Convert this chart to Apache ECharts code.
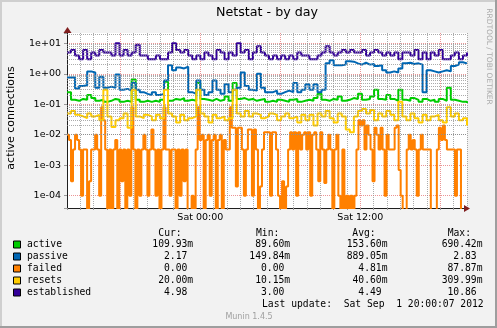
<!DOCTYPE html>
<html><head><meta charset="utf-8">
<script src="https://cdn.jsdelivr.net/npm/echarts@6/dist/echarts.min.js"></script>
<style>html,body{margin:0;padding:0;background:#F2F2F2}#c{width:497px;height:328px}</style>
</head><body><div id="c"></div>
<script>
// ---- data ----
const chartTitle = 'Netstat - by day';
const yAxisTitle = 'active connections';
const xTickLabels = {10: 'Sat 00:00', 22: 'Sat 12:00'}; // hours after Fri 14:00
const spanHours = 30;
const seriesNames = ['active', 'passive', 'failed', 'resets', 'established'];
const seriesColors = ['#00CC00', '#0066B3', '#FF8000', '#FFCC00', '#330099'];

const active = [
0.25,0.14,0.13,0.15,0.14,0.2,0.16,0.13,0.14,0.12,
0.13,0.15,0.14,0.12,0.13,0.12,0.65,0.14,0.12,0.13,
0.12,0.13,0.12,0.14,0.55,0.13,0.15,0.14,0.16,0.13,
0.14,0.13,0.5,0.15,0.14,0.13,0.15,0.13,0.14,0.18,
0.13,0.5,0.15,0.16,0.14,0.15,0.13,0.14,0.15,0.12,
0.13,0.12,0.14,0.13,0.12,0.14,0.15,0.12,0.13,0.14,
0.13,0.16,0.22,0.14,0.13,0.15,0.14,0.18,0.13,0.14,
0.16,0.15,0.22,0.14,0.15,0.18,0.3,0.15,0.14,0.2,
0.15,0.13,0.3,0.14,0.13,0.16,0.14,0.12,0.15,0.13,
0.14,0.12,0.15,0.13,0.35,0.14,0.13,0.12,0.12,0.11];

const passive = [
0.75,0.75,0.33,0.4,0.42,1.2,1.1,0.35,0.8,0.35,
0.38,0.35,0.95,0.3,0.32,0.28,0.5,0.3,0.25,0.22,
0.2,0.25,0.2,0.22,0.6,1.9,1.3,1.6,1.5,1.7,
0.25,0.22,0.6,0.3,0.2,0.25,0.6,0.3,0.22,0.45,
0.25,0.3,0.35,1.1,0.4,0.3,0.28,1.0,0.35,0.25,
0.25,0.28,0.22,0.25,0.28,0.25,0.5,0.25,0.3,0.45,
0.3,0.45,0.25,0.3,2.2,2.8,1.9,1.9,2.0,2.6,
2.5,2.2,2.0,2.3,2.0,2.1,1.8,1.9,1.3,1.1,
1.2,1.1,1.5,2.2,2.3,2.1,2.2,2.0,0.25,1.3,
1.2,1.1,1.2,1.3,1.2,1.8,2.0,2.4,2.2,2.17];

const failed = [
0.01,0.0067,0.0003,0.0033,0.01,0.0067,0.0033,0.0001,0.0033,0.0033,
0,0.0003,0.0033,0.0033,0.01,0.0033,0.0001,0.08,0.03,0.0033,
0,0.0033,0,0.0033,0.0067,0,0.0033,0.0003,0.0033,0,
0.0033,0.0001,0.08,0.0033,0,0.0033,0.0001,0.0033,0.01,0.0033,
0.0001,0.0033,0.015,0.0033,0.0001,0.0033,0,0.0033,0.08,0.0033,
0.0033,0.0001,0.0033,0.0033,0,0.0033,0.0001,0.0033,0.0003,0.0033,
0,0,0.0001,0,0.0033,0.08,0.0067,0.01,0,0.0067,
0.01,0.0001,0.0067,0.01,0,0.0067,0.01,0,0.0067,0.0033,
0.0033,0.08,0.017,0.017,0.0002,0.017,0.017,0.0033,0.0001,0.0033,
0.015,0.015,0.0001,0.015,0.0033,0,0.0002,0.0033,0.012,0.012,
0.012,0.0001,0.012,0.012,0.0033,0.0001,0,0.0003,0,0.0002,
0.0033,0.012,0.0033,0.012,0.0001,0.012,0.0033,0.01,0.012,0.0033,
0.012,0.0001,0.01,0.012,0.0033,0.0003,0.012,0.0033,0.00026,0.0033,
0.01,0.0033,0,0.0033,0.01,0.0001,0,0.0033,0,0.0001,
0,0.0001,0,0.0001,0.0033,0.03,0.02,0.03,0.0033,0.02,
0.01,0.0033,0.0003,0.017,0.01,0.0033,0.017,0.0033,0.0001,0.01,
0.0033,0.0033,0.0033,0.017,0.02,0.0007,0.0001,0,0,0.0033,
0.01,0.0033,0.0067,0.0033,0.0001,0.0033,0.01,0.0033,0.0033,0.0033,
0.0033,0,0,0,0.0033,0.017,0.0067,0.02,0.0067,0.0033,
0.0033,0.0033,0.0033,0.0001,0.0033,0.0033,0,0,0,0];

const resets = [
0.05,0.06,0.045,0.04,0.035,0.05,0.04,0.045,0.03,0.3,
0.04,0.018,0.03,0.035,0.05,0.017,0.3,0.04,0.035,0.045,
0.04,0.03,0.045,0.035,0.3,0.05,0.04,0.025,0.045,0.03,
0.035,0.04,0.3,0.05,0.04,0.025,0.045,0.035,0.04,0.03,
0.035,0.3,0.05,0.04,0.06,0.04,0.05,0.045,0.035,0.04,
0.05,0.045,0.03,0.04,0.05,0.035,0.04,0.025,0.045,0.03,
0.045,0.02,0.05,0.04,0.06,0.035,0.025,0.05,0.04,0.015,
0.012,0.04,0.06,0.07,0.05,0.065,0.03,0.05,0.04,0.06,
0.045,0.03,0.12,0.04,0.03,0.05,0.035,0.025,0.045,0.03,
0.04,0.045,0.03,0.025,0.08,0.04,0.05,0.03,0.035,0.02];

const established = [
5,6,4,3,6,3,5,4,6,5,
5,4,10,4,6,4,5,9,4,4,
3,3,4,3,3,5,10,6,5,6,
4,3,4,3,5,4,3,6,5,3,
5,4,10,5,6,3,5,8,5,4,
3,4,3,4,3,4,3,5,4,4,
3,3,4,5,8,5,4,5,6,5,
6,5,5,6,4,5,6,5,4,5,
4,5,3,5,5,4,6,3,5,3,
5,4,6,3,3,4,5,3,4,4.98];

const legendHeaders = ['Cur:', 'Min:', 'Avg:', 'Max:'];
const curVals = ['109.93m', '  2.17 ', '  0.00 ', ' 20.00m', '  4.98 '];
const minVals = [' 89.60m', '149.84m', '  0.00 ', ' 10.15m', '  3.00 '];
const avgVals = ['153.60m', '889.05m', '  4.81m', ' 40.60m', '  4.49 '];
const maxVals = ['690.42m', '  2.83 ', ' 87.87m', '309.99m', ' 10.86 '];
const lastUpdate = 'Last update:  Sat Sep  1 20:00:07 2012';
const footer = 'Munin 1.4.5';
const sideText = 'RRDTOOL / TOBI OETIKER';

// ---- chart ----
const allSeries = [active, passive, failed, resets, established];
const yMin = 3.95e-5, yMax = 21.8;
const floorVal = 1e-6; // zero cannot be shown on a log axis; draw it below the bottom edge (clipped)
const toPairs = arr => arr.map((v, i) => [i * spanHours / (arr.length - 1), Math.max(v, floorVal)]);

const minorGrid = [];
for (let k = -5; k <= 1; k++) for (let m = 2; m <= 9; m++) {
  const v = m * Math.pow(10, k);
  if (v > yMin * 1.01 && v < yMax) minorGrid.push({yAxis: v});
}

const GRID = 'rgba(143,143,143,0.75)';
const MGRID = 'rgba(222,79,79,0.6)';
const mono = '"DejaVu Sans Mono"';
const sans = '"DejaVu Sans"';

const chart = echarts.init(document.getElementById('c'), null, {renderer: 'canvas', devicePixelRatio: 1});

const gfx = [];
gfx.push({type: 'rect', shape: {x: 0, y: 0, width: 497, height: 328}, style: {fill: '#F2F2F2'}, z: -10});
gfx.push({type: 'rect', shape: {x: 0, y: 0, width: 497, height: 2}, style: {fill: '#CFCFCF'}, z: -9});
gfx.push({type: 'rect', shape: {x: 0, y: 0, width: 2, height: 328}, style: {fill: '#CFCFCF'}, z: -9});
gfx.push({type: 'rect', shape: {x: 495, y: 0, width: 2, height: 328}, style: {fill: '#9E9E9E'}, z: -9});
gfx.push({type: 'rect', shape: {x: 0, y: 326, width: 497, height: 2}, style: {fill: '#9E9E9E'}, z: -9});

function txt(text, x, y, font, fill, align, rot) {
  return {type: 'text', x: x, y: y, rotation: rot || 0, z: 10,
    style: {text: text, font: font, fill: fill, align: align, textAlign: align,
      verticalAlign: 'middle', textVerticalAlign: 'middle'}};
}
gfx.push(txt(chartTitle, 267, 13, '12.7px ' + sans, '#000', 'center'));
gfx.push(txt(yAxisTitle, 11, 118, '11px ' + sans, '#000', 'center', Math.PI / 2));
gfx.push(txt(sideText, 488.5, 56.5, '7.5px ' + sans, '#AAAAAA', 'center', -Math.PI / 2));

const colX = [152.3, 249.3, 346.7, 441.7];
const headX = [158.3, 256, 352.3, 447.7];
const F = '9.7px ' + mono;
legendHeaders.forEach((h, j) => gfx.push(txt(h, headX[j], 233, F, '#000', 'left')));
const cols = [curVals, minVals, avgVals, maxVals];
seriesNames.forEach((n, i) => {
  const y = 244.5 + i * 12;
  gfx.push({type: 'rect', shape: {x: 13.5, y: y - 3.5, width: 7, height: 7},
    style: {fill: seriesColors[i], stroke: '#000', lineWidth: 1}, z: 10});
  gfx.push(txt(n, 27, y, F, '#000', 'left'));
  cols.forEach((c, j) => gfx.push(txt(c[i], colX[j], y, F, '#000', 'left')));
});
gfx.push(txt(lastUpdate, 262, 304.3, F, '#000', 'left'));
gfx.push(txt(footer, 249, 316.7, '8px ' + sans, '#A0A0A0', 'center'));
// red arrow heads as in rrdtool
gfx.push({type: 'polygon', shape: {points: [[464, 205], [470, 208.5], [464, 212]]}, style: {fill: '#801F1F'}, z: 10});
gfx.push({type: 'polygon', shape: {points: [[63.5, 33], [67.5, 27], [71.5, 33]]}, style: {fill: '#801F1F'}, z: 10});

const series = [{
  type: 'line', data: [], z: 1, silent: true,
  markLine: {silent: true, symbol: 'none', animation: false, label: {show: false},
    lineStyle: {type: 'dotted', color: GRID, width: 1}, data: minorGrid}
}];
allSeries.forEach((arr, i) => series.push({
  name: seriesNames[i], type: 'line', data: toPairs(arr), step: 'end',
  showSymbol: false, symbol: 'none', clip: true, z: 2,
  lineStyle: {color: seriesColors[i], width: 2}, itemStyle: {color: seriesColors[i]}
}));

chart.setOption({
  animation: false,
  backgroundColor: 'transparent',
  graphic: {elements: gfx},
  grid: {left: 67, top: 33, width: 400, height: 175, show: true, backgroundColor: '#FFFFFF',
    borderWidth: 0, containLabel: false, outerBoundsMode: 'none'},
  xAxis: {
    type: 'value', min: 0, max: spanHours, interval: 1,
    axisLine: {show: true, onZero: false, lineStyle: {color: '#1F1F1F', width: 1}},
    axisTick: {show: true, length: 2, lineStyle: {color: '#999'}},
    axisLabel: {formatter: v => xTickLabels[v] || '', fontSize: 9.5, fontFamily: 'DejaVu Sans', color: '#000', margin: 5},
    splitLine: {show: true, lineStyle: {type: 'dotted', width: 1, color: [GRID, GRID, GRID, GRID, MGRID, GRID]}}
  },
  yAxis: {
    type: 'log', logBase: 10, min: yMin, max: yMax,
    axisLine: {show: true, onZero: false, lineStyle: {color: '#1F1F1F', width: 1}},
    axisTick: {show: true, length: 3, lineStyle: {color: '#999'}},
    axisLabel: {
      fontSize: 9.5, fontFamily: 'DejaVu Sans', color: '#000', margin: 6,
      formatter: v => {
        const l = Math.log10(v), e = Math.round(l);
        if (Math.abs(l - e) > 0.01) return '';
        const a = Math.abs(e);
        return '1e' + (e < 0 ? '-' : '+') + (a < 10 ? '0' : '') + a;
      }
    },
    splitLine: {show: true, showMinLine: false, showMaxLine: false,
      lineStyle: {type: 'dotted', width: 1, color: MGRID}}
  },
  series: series
});
</script></body></html>
